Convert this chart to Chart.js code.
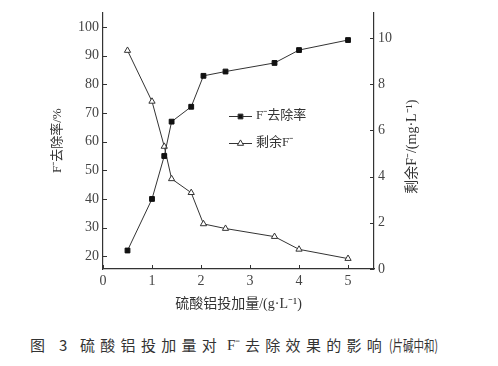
<!DOCTYPE html>
<html lang="zh">
<head>
  <meta charset="UTF-8">
  <title>硫酸铝投加量对F⁻去除效果的影响</title>
  <script src="https://cdn.jsdelivr.net/npm/chart.js"></script>
  <style>
    body {
      margin: 0;
      background: #fff;
    }

    .wrap {
      position: relative;
      width: 498px;
      height: 366px;
    }

    .plot {
      position: absolute;
      left: 0;
      top: 0;
      width: 498px;
      height: 320px;
    }

    .caption {
      position: absolute;
      top: 335px;
      font-family: "Noto Sans CJK SC", sans-serif;
      font-size: 15px;
      line-height: 20px;
      color: #333;
      letter-spacing: 5.3px;
      white-space: pre;
    }

    .tail {
      left: 389px;
      letter-spacing: 0;
      transform: scaleX(0.7);
      transform-origin: left center;
    }
  </style>
</head>
<body>
  <div class="wrap">
    <div class="plot"><canvas id="chart"></canvas></div>
    <div class="caption" style="left: 30px;">图 3</div>
    <div class="caption" style="left: 80px;">硫酸铝投加量对</div>
    <div class="caption" style="left: 227px; letter-spacing: 0; font-family: 'Liberation Serif', serif;">F⁻</div>
    <div class="caption" style="left: 245px;">去除效果的影响</div>
    <div class="caption tail">(片碱中和)</div>
  </div>

  <script>
    // dosage of aluminium sulfate, g/L
    const dosage = [0.5, 1, 1.25, 1.4, 1.8, 2.05, 2.5, 3.5, 4, 5];
    // F- removal rate, %
    const removalRate = [22, 40, 55, 67, 72.2, 83, 84.5, 87.5, 92, 95.5];
    // remaining F-, mg/L
    const remainingF = [9.45, 7.25, 5.3, 3.9, 3.3, 1.95, 1.75, 1.4, 0.85, 0.45];

    const xTicks = [0, 1, 2, 3, 4, 5];
    const leftTicks = [20, 30, 40, 50, 60, 70, 80, 90, 100];
    const rightTicks = [0, 2, 4, 6, 8, 10];

    const ink = "#333";
    const serif = '"Liberation Serif", "Noto Sans CJK SC", serif';

    const fixTicks = (values) => (scale) => {
      scale.ticks = values.map(v => ({ value: v }));
    };

    // tick marks point into the plot on all three axes
    const innerTicks = {
      id: "innerTicks",
      afterDraw(chart) {
        const { ctx, chartArea, scales } = chart;
        ctx.save();
        ctx.strokeStyle = ink;
        ctx.lineWidth = 1;
        ctx.beginPath();
        scales.x.ticks.forEach(t => {
          const px = Math.round(scales.x.getPixelForValue(t.value)) + 0.5;
          ctx.moveTo(px, chartArea.bottom);
          ctx.lineTo(px, chartArea.bottom - 4);
        });
        scales.y.ticks.forEach(t => {
          const py = Math.round(scales.y.getPixelForValue(t.value)) + 0.5;
          ctx.moveTo(chartArea.left, py);
          ctx.lineTo(chartArea.left + 4, py);
        });
        scales.y2.ticks.forEach(t => {
          const py = Math.round(scales.y2.getPixelForValue(t.value)) + 0.5;
          ctx.moveTo(chartArea.right, py);
          ctx.lineTo(chartArea.right - 4, py);
        });
        ctx.stroke();
        ctx.restore();
      }
    };

    // right axis title reads bottom to top, like the left one
    const rightTitle = {
      id: "rightTitle",
      afterDraw(chart) {
        const { ctx, chartArea } = chart;
        ctx.save();
        ctx.translate(412, (chartArea.top + chartArea.bottom) / 2 + 6);
        ctx.rotate(-Math.PI / 2);
        ctx.font = "14px " + serif;
        ctx.fillStyle = ink;
        ctx.textAlign = "center";
        ctx.textBaseline = "middle";
        ctx.fillText("剩余F⁻/(mg·L⁻¹)", 0, 0);
        ctx.restore();
      }
    };

    // legend sits inside the plot, line + marker + label
    const innerLegend = {
      id: "innerLegend",
      afterDraw(chart) {
        const { ctx } = chart;
        const rows = [116, 143];
        ctx.save();
        ctx.font = "13px " + serif;
        ctx.textBaseline = "middle";
        chart.data.datasets.forEach((ds, i) => {
          const y = rows[i];
          ctx.strokeStyle = ink;
          ctx.lineWidth = 1;
          ctx.beginPath();
          ctx.moveTo(229, y + 0.5);
          ctx.lineTo(252, y + 0.5);
          ctx.stroke();
          ctx.fillStyle = ds.pointBackgroundColor;
          ctx.strokeStyle = ink;
          Chart.helpers.drawPoint(ctx, {
            pointStyle: ds.pointStyle,
            radius: ds.pointRadius,
            borderWidth: 1,
            rotation: 0
          }, 240.5, y + 0.5);
          ctx.fillStyle = ink;
          ctx.fillText(ds.label, 256, y);
        });
        ctx.restore();
      }
    };

    new Chart(document.getElementById("chart"), {
      type: "line",
      data: {
        datasets: [{
          label: "F⁻去除率",
          data: dosage.map((x, i) => ({ x: x, y: removalRate[i] })),
          yAxisID: "y",
          borderColor: ink,
          borderWidth: 1,
          pointStyle: "rect",
          pointRadius: 3.4,
          pointBackgroundColor: "#111",
          pointBorderColor: "#111",
          pointBorderWidth: 1,
          tension: 0
        }, {
          label: "剩余F⁻",
          data: dosage.map((x, i) => ({ x: x, y: remainingF[i] })),
          yAxisID: "y2",
          borderColor: ink,
          borderWidth: 1,
          pointStyle: "triangle",
          pointRadius: 3.6,
          pointBackgroundColor: "#fff",
          pointBorderColor: ink,
          pointBorderWidth: 1,
          tension: 0
        }]
      },
      options: {
        responsive: true,
        maintainAspectRatio: false,
        animation: false,
        layout: { padding: { top: 8, left: 0, right: 0, bottom: 0 } },
        plugins: {
          legend: { display: false },
          tooltip: { enabled: false }
        },
        scales: {
          x: {
            type: "linear",
            min: 0,
            max: 5.53,
            afterBuildTicks: fixTicks(xTicks),
            afterFit: (s) => { s.height = 51; },
            grid: { display: false, drawTicks: false },
            border: { display: true, color: ink, width: 1.2 },
            ticks: {
              padding: 4,
              color: "#444",
              font: { family: serif, size: 14 }
            },
            title: {
              display: true,
              text: "硫酸铝投加量/(g·L⁻¹)",
              color: ink,
              font: { family: serif, size: 14 },
              padding: { top: 0, bottom: 7 }
            }
          },
          y: {
            position: "left",
            min: 15.54,
            max: 105.15,
            afterBuildTicks: fixTicks(leftTicks),
            afterFit: (s) => { s.width = 103; },
            grid: { display: false, drawTicks: false },
            border: { display: true, color: ink, width: 1.2 },
            ticks: {
              padding: 4,
              color: "#444",
              font: { family: serif, size: 14 }
            },
            title: {
              display: true,
              text: "F⁻去除率/%",
              color: ink,
              font: { family: serif, size: 13 },
              padding: { top: 50, bottom: 0 }
            }
          },
          y2: {
            position: "right",
            min: 0,
            max: 11.1,
            afterBuildTicks: fixTicks(rightTicks),
            afterFit: (s) => { s.width = 124; },
            grid: { display: false, drawTicks: false },
            border: { display: true, color: ink, width: 1.2 },
            ticks: {
              padding: 4,
              color: "#444",
              font: { family: serif, size: 14 }
            }
          }
        }
      },
      plugins: [innerTicks, rightTitle, innerLegend]
    });
  </script>
</body>
</html>
